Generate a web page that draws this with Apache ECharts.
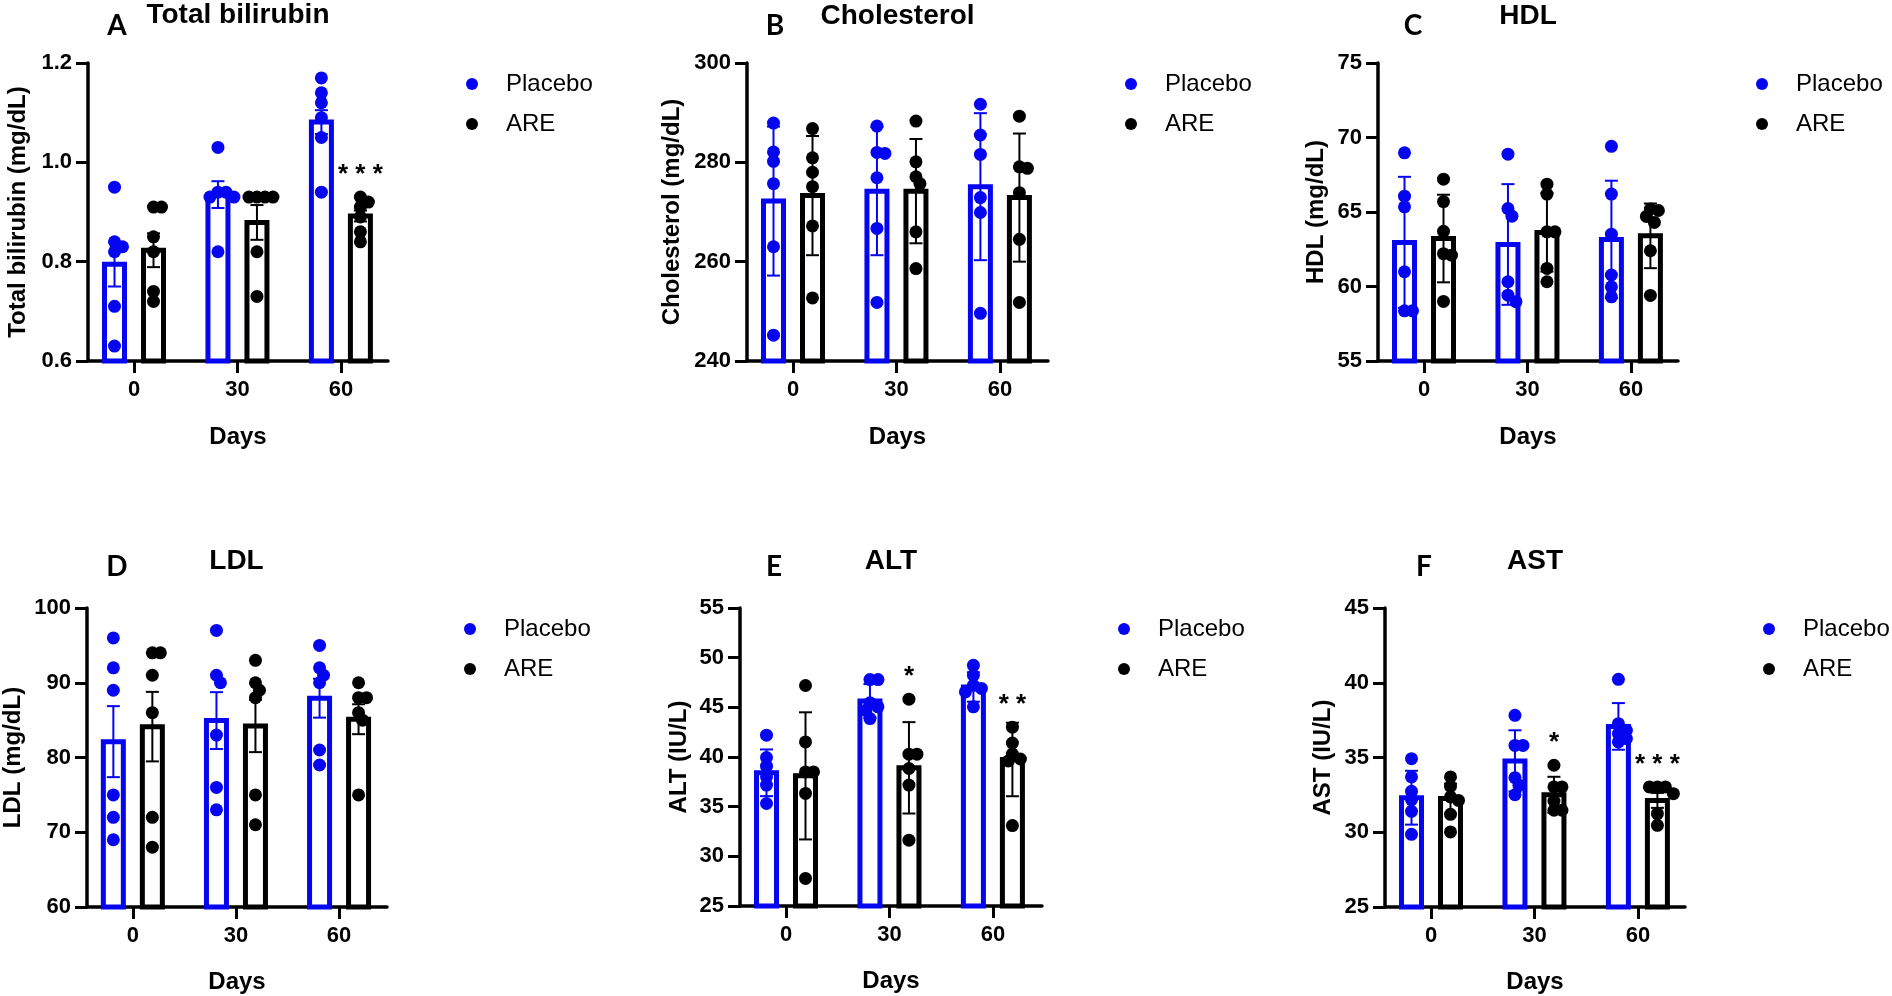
<!DOCTYPE html>
<html>
<head>
<meta charset="utf-8">
<title>Placebo vs ARE</title>
<script src="https://cdn.jsdelivr.net/npm/echarts@6/dist/echarts.min.js"></script>
<style>
    html, body { margin: 0; padding: 0; background: #fff; }
    #main { width: 1892px; height: 996px; }
</style>
</head>
<body>
<div id="main"></div>
<script>
// x categories
var days = ['0', '30', '60'];

// A total bilirubin (mg/dL)
var biliPlacebo = [[0.95, 0.84, 0.83, 0.82, 0.71, 0.63], [1.03, 0.94, 0.94, 0.93, 0.93, 0.82], [1.17, 1.14, 1.12, 1.09, 1.05, 0.94]];
var biliAre = [[0.91, 0.91, 0.85, 0.82, 0.74, 0.72], [0.93, 0.93, 0.93, 0.93, 0.82, 0.73], [0.93, 0.92, 0.91, 0.89, 0.86, 0.84]];
var biliPlaceboMean = [0.795, 0.935, 1.081];
var biliPlaceboErr = [0.045, 0.027, 0.024];
var biliAreMean = [0.823, 0.879, 0.892];
var biliAreErr = [0.034, 0.035, 0.011];
var biliStars = ['', '', '* * *'];

// B cholesterol (mg/dL)
var cholPlacebo = [[287.9, 282.1, 280.2, 275.7, 263.0, 245.2], [287.3, 282.0, 281.8, 276.9, 266.7, 251.8], [291.7, 285.5, 281.6, 272.9, 269.9, 249.6]];
var cholAre = [[286.8, 280.9, 278.0, 275.1, 267.2, 252.7], [288.3, 280.1, 277.1, 275.7, 266.0, 258.6], [289.3, 279.1, 278.8, 273.9, 264.5, 251.8]];
var cholPlaceboMean = [272.2, 274.2, 275.1];
var cholPlaceboErr = [15.0, 12.9, 14.8];
var cholAreMean = [273.3, 274.2, 272.9];
var cholAreErr = [12.0, 10.5, 12.9];
var cholStars = ['', '', ''];

// C HDL (mg/dL)
var hdlPlacebo = [[68.97, 66.06, 65.35, 60.99, 58.37, 58.37], [68.88, 65.23, 64.72, 60.32, 59.42, 58.98], [69.41, 66.2, 63.51, 60.77, 59.98, 59.31]];
var hdlAre = [[67.2, 65.7, 63.7, 62.2, 62.1, 59.0], [66.87, 66.2, 63.67, 63.67, 61.21, 60.32], [65.2, 65.1, 64.7, 64.3, 62.4, 59.4]];
var hdlPlaceboMean = [62.96, 62.82, 63.16];
var hdlPlaceboErr = [4.4, 4.05, 3.94];
var hdlAreMean = [63.22, 63.63, 63.40];
var hdlAreErr = [2.94, 2.63, 2.17];
var hdlStars = ['', '', ''];

// D LDL (mg/dL)
var ldlPlacebo = [[96, 92, 89, 75, 72, 69], [97, 91, 90, 83, 76, 73], [95, 92, 91, 90, 81, 79]];
var ldlAre = [[94, 94, 91, 86, 72, 68], [93, 90, 89, 88, 75, 71], [90, 88, 88, 86, 85, 75]];
var ldlPlaceboMean = [82.12, 84.94, 87.93];
var ldlPlaceboErr = [4.75, 3.8, 2.6];
var ldlAreMean = [84.13, 84.22, 85.12];
var ldlAreErr = [4.65, 3.5, 2.0];
var ldlStars = ['', '', ''];

// E ALT (IU/L)
var altPlacebo = [[42.2, 39.95, 39.08, 38.0, 37.17, 35.32], [47.79, 47.79, 45.45, 45.05, 44.7, 43.87], [49.23, 48.23, 47.22, 46.9, 46.55, 45.05]];
var altAre = [[47.2, 41.52, 38.5, 38.5, 36.33, 27.78], [45.82, 40.28, 40.28, 38.84, 37.17, 31.63], [43.0, 41.4, 40.3, 39.8, 39.6, 33.1]];
var altPlaceboMean = [38.41, 45.65, 47.05];
var altPlaceboErr = [2.35, 1.7, 1.48];
var altAreMean = [38.1, 38.91, 39.75];
var altAreErr = [6.4, 4.6, 3.7];
var altStars = ['', '*', '* *'];

// F AST (IU/L)
var astPlacebo = [[34.92, 33.7, 32.74, 32.18, 31.4, 29.86], [37.82, 35.81, 35.81, 33.65, 33.14, 32.51], [40.23, 37.26, 36.82, 36.6, 36.26, 36.04]];
var astAre = [[33.7, 33.07, 32.36, 32.13, 31.2, 30.02], [34.48, 33.03, 33.03, 32.09, 31.47, 31.47], [33.03, 33.03, 33.03, 32.58, 31.24, 30.46]];
var astPlaceboMean = [32.31, 34.77, 37.08];
var astPlaceboErr = [1.8, 2.05, 1.56];
var astAreMean = [32.25, 32.51, 32.13];
var astAreErr = [1.0, 1.2, 0.5];
var astStars = ['', '*', '* * *'];

var BLUE = '#0505f0';
var BLACK = '#000';
var FONT = '"Liberation Sans", Arial, sans-serif';

// layout of the six panels
var panels = [
    {letter: 'A', title: 'Total bilirubin', yName: 'Total bilirubin (mg/dL)', min: 0.6, max: 1.2, step: 0.2, digits: 1,
        left: 88, top: 63, width: 300, height: 298, nameGap: 58, letterX: 117, letterY: 26, titleY: 15, daysGap: 64,
        placebo: biliPlacebo, are: biliAre, pMean: biliPlaceboMean, pErr: biliPlaceboErr, aMean: biliAreMean, aErr: biliAreErr, stars: biliStars},
    {letter: 'B', title: 'Cholesterol', yName: 'Cholesterol (mg/dL)', min: 240, max: 300, step: 20, digits: 0,
        left: 747, top: 63, width: 301, height: 298, nameGap: 63, letterX: 775, letterY: 26, titleY: 16, daysGap: 64,
        placebo: cholPlacebo, are: cholAre, pMean: cholPlaceboMean, pErr: cholPlaceboErr, aMean: cholAreMean, aErr: cholAreErr, stars: cholStars},
    {letter: 'C', title: 'HDL', yName: 'HDL (mg/dL)', min: 55, max: 75, step: 5, digits: 0,
        left: 1378, top: 63, width: 300, height: 298, nameGap: 50, letterX: 1413, letterY: 26, titleY: 16, daysGap: 64,
        placebo: hdlPlacebo, are: hdlAre, pMean: hdlPlaceboMean, pErr: hdlPlaceboErr, aMean: hdlAreMean, aErr: hdlAreErr, stars: hdlStars},
    {letter: 'D', title: 'LDL', yName: 'LDL (mg/dL)', min: 60, max: 100, step: 10, digits: 0,
        left: 86, top: 608, width: 301, height: 299, nameGap: 62, letterX: 117, letterY: 567, titleY: 561, daysGap: 63,
        placebo: ldlPlacebo, are: ldlAre, pMean: ldlPlaceboMean, pErr: ldlPlaceboErr, aMean: ldlAreMean, aErr: ldlAreErr, stars: ldlStars},
    {letter: 'E', title: 'ALT', yName: 'ALT (IU/L)', min: 25, max: 55, step: 5, digits: 0,
        left: 740, top: 608, width: 302, height: 298, nameGap: 49, letterX: 774, letterY: 567, titleY: 561, daysGap: 63,
        placebo: altPlacebo, are: altAre, pMean: altPlaceboMean, pErr: altPlaceboErr, aMean: altAreMean, aErr: altAreErr, stars: altStars},
    {letter: 'F', title: 'AST', yName: 'AST (IU/L)', min: 25, max: 45, step: 5, digits: 0,
        left: 1385, top: 608, width: 300, height: 299, nameGap: 50, letterX: 1424, letterY: 567, titleY: 561, daysGap: 63,
        placebo: astPlacebo, are: astAre, pMean: astPlaceboMean, pErr: astPlaceboErr, aMean: astAreMean, aErr: astAreErr, stars: astStars}
];

var BAR_SHIFT = 19.5;   // px from the day tick to each bar centre
var BAR_W = 20;         // inner width, stroke adds 5
var DOT_R = 6.5;

// simple beeswarm: spread dots sideways when they would overlap
function swarm(ys) {
    var order = ys.map(function (y, i) { return i; });
    order.sort(function (a, b) { return ys[a] - ys[b]; });
    var placed = [];
    var offs = [];
    order.forEach(function (i) {
        var x = 0;
        for (var k = 0; k < 12; k++) {
            var cands = k === 0 ? [0] : [k * 4, -k * 4];
            var hit = null;
            for (var c = 0; c < cands.length; c++) {
                var ok = placed.every(function (p) {
                    var dx = p.x - cands[c], dy = p.y - ys[i];
                    return dx * dx + dy * dy >= 64;
                });
                if (ok) { hit = cands[c]; break; }
            }
            if (hit !== null) { x = hit; break; }
        }
        placed.push({x: x, y: ys[i]});
        offs[i] = x;
    });
    return offs;
}

function barSeries(idx, name, means, side, color) {
    return {
        name: name, type: 'custom', xAxisIndex: idx, yAxisIndex: idx, z: 2,
        itemStyle: {color: color},
        data: means.map(function (m, i) { return [i, m]; }),
        renderItem: function (params, api) {
            var p = api.coord([api.value(0), api.value(1)]);
            var bottom = params.coordSys.y + params.coordSys.height;
            var cx = p[0] + side * BAR_SHIFT;
            return {
                type: 'rect',
                shape: {x: cx - BAR_W / 2, y: p[1], width: BAR_W, height: bottom - p[1]},
                style: {fill: '#fff', stroke: color, lineWidth: 5}
            };
        }
    };
}

function errSeries(idx, name, means, errs, side, color) {
    return {
        name: name, type: 'custom', xAxisIndex: idx, yAxisIndex: idx, z: 3,
        itemStyle: {color: color},
        data: means.map(function (m, i) { return [i, m, errs[i]]; }),
        renderItem: function (params, api) {
            var c = api.value(0), m = api.value(1), e = api.value(2);
            var hi = api.coord([c, m + e]);
            var lo = api.coord([c, m - e]);
            var cx = hi[0] + side * BAR_SHIFT;
            var st = {stroke: color, lineWidth: 2};
            return {
                type: 'group',
                children: [
                    {type: 'line', shape: {x1: cx, y1: hi[1], x2: cx, y2: lo[1]}, style: st},
                    {type: 'line', shape: {x1: cx - 6.5, y1: hi[1], x2: cx + 6.5, y2: hi[1]}, style: st},
                    {type: 'line', shape: {x1: cx - 6.5, y1: lo[1], x2: cx + 6.5, y2: lo[1]}, style: st}
                ]
            };
        }
    };
}

function dotSeries(idx, name, groups, side, color) {
    var data = [];
    groups.forEach(function (vals, c) {
        vals.forEach(function (v, j) { data.push([c, v, j]); });
    });
    return {
        name: name, type: 'custom', xAxisIndex: idx, yAxisIndex: idx, z: 4,
        itemStyle: {color: color},
        data: data,
        renderItem: function (params, api) {
            var c = api.value(0), j = api.value(2);
            var ys = groups[c].map(function (v) { return api.coord([c, v])[1]; });
            var offs = swarm(ys);
            var cx = api.coord([c, 0])[0] + side * BAR_SHIFT + offs[j];
            return {type: 'circle', shape: {cx: cx, cy: ys[j], r: DOT_R}, style: {fill: color}};
        }
    };
}

function starSeries(idx, stars, groups) {
    var data = [];
    stars.forEach(function (s, c) { if (s) data.push([c, Math.max.apply(null, groups[c])]); });
    return {
        name: 'stars', type: 'custom', xAxisIndex: idx, yAxisIndex: idx, z: 5,
        data: data,
        renderItem: function (params, api) {
            var c = api.value(0);
            var p = api.coord([c, api.value(1)]);
            return {
                type: 'text', x: p[0] + BAR_SHIFT, y: p[1] - 22,
                style: {text: stars[c], fontSize: 26, fontWeight: 'bold', fontFamily: FONT, fill: '#000',
                    align: 'center', verticalAlign: 'middle'}
            };
        }
    };
}

var grids = [], xAxes = [], yAxes = [], series = [], legends = [], graphics = [];

panels.forEach(function (p, i) {
    var unit = 103.45;
    var xMin = -46 / unit;
    var xMax = (p.width - 46) / unit;

    grids.push({left: p.left, top: p.top, width: p.width, height: p.height});

    xAxes.push({
        gridIndex: i, type: 'value', min: xMin, max: xMax,
        name: 'Days', nameLocation: 'middle', nameGap: p.daysGap,
        nameTextStyle: {fontSize: 24, fontWeight: 'bold', fontFamily: FONT, color: '#000'},
        axisLine: {show: true, onZero: false, lineStyle: {color: '#000', width: 3.5}},
        axisTick: {show: true, customValues: [0, 1, 2], length: 12, lineStyle: {color: '#000', width: 3}},
        axisLabel: {
            customValues: [0, 1, 2], margin: 18, fontSize: 22, fontWeight: 'bold', fontFamily: FONT, color: '#000',
            formatter: function (v) { return days[Math.round(v)]; }
        },
        splitLine: {show: false}
    });

    yAxes.push({
        gridIndex: i, type: 'value', min: p.min, max: p.max, interval: p.step,
        name: p.yName, nameLocation: 'middle', nameRotate: 90, nameGap: p.nameGap,
        nameTextStyle: {fontSize: 24, fontWeight: 'bold', fontFamily: FONT, color: '#000'},
        axisLine: {show: true, onZero: false, lineStyle: {color: '#000', width: 3.5}},
        axisTick: {show: true, length: 12, lineStyle: {color: '#000', width: 3}},
        axisLabel: {
            margin: 16, fontSize: 22, fontWeight: 'bold', fontFamily: FONT, color: '#000',
            formatter: function (v) { return v.toFixed(p.digits); }
        },
        splitLine: {show: false}
    });

    series.push(barSeries(i, 'Placebo', p.pMean, -1, BLUE));
    series.push(barSeries(i, 'ARE', p.aMean, 1, BLACK));
    series.push(errSeries(i, 'Placebo', p.pMean, p.pErr, -1, BLUE));
    series.push(errSeries(i, 'ARE', p.aMean, p.aErr, 1, BLACK));
    series.push(dotSeries(i, 'Placebo', p.placebo, -1, BLUE));
    series.push(dotSeries(i, 'ARE', p.are, 1, BLACK));
    series.push(starSeries(i, p.stars, p.are));

    legends.push({
        orient: 'vertical', left: p.left + 384 - 6, top: p.top + 21 - 12, padding: 0,
        itemWidth: 12, itemHeight: 12, itemGap: 16, icon: 'circle',
        selectedMode: false,
        textStyle: {fontSize: 24, lineHeight: 24, fontFamily: FONT, color: '#000', padding: [0, 0, 0, 23]},
        data: [
            {name: 'Placebo', itemStyle: {color: BLUE}},
            {name: 'ARE', itemStyle: {color: BLACK}}
        ]
    });

    graphics.push({
        type: 'text', x: p.left + p.width / 2, y: p.titleY,
        style: {text: p.title, fontSize: 28, fontWeight: 'bold', fontFamily: FONT, fill: '#000',
            align: 'center', verticalAlign: 'middle'}
    });
    graphics.push({
        type: 'text', x: p.letterX, y: p.letterY,
        style: {text: p.letter, fontSize: 28, fontWeight: 'bold', fontFamily: 'Lato, "Open Sans", sans-serif', fill: '#000',
            align: 'center', verticalAlign: 'middle'}
    });
});

var chart = echarts.init(document.getElementById('main'));
chart.setOption({
    animation: false,
    backgroundColor: '#fff',
    grid: grids,
    xAxis: xAxes,
    yAxis: yAxes,
    legend: legends,
    graphic: graphics,
    series: series
});
</script>
</body>
</html>
